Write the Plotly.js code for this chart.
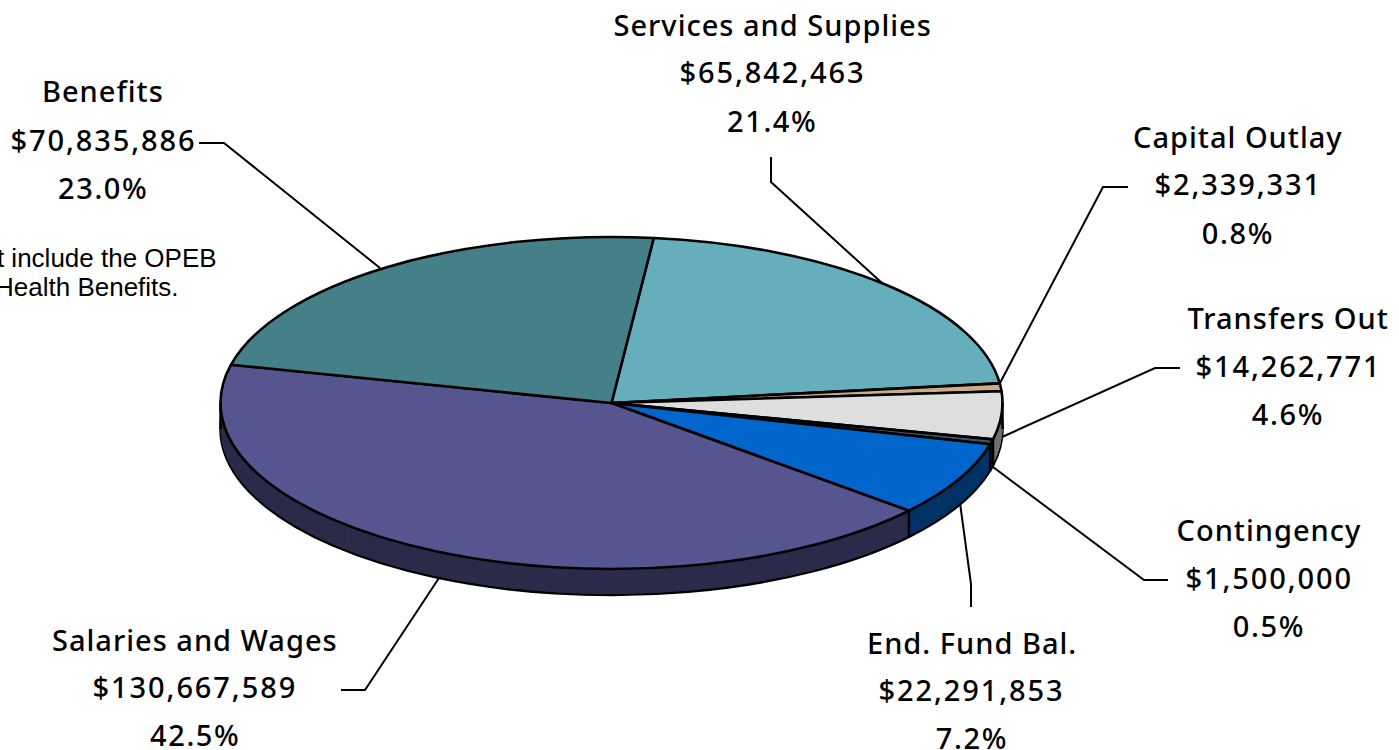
<!DOCTYPE html>
<html>
<head>
<meta charset="utf-8">
<script src="https://cdn.plot.ly/plotly-3.0.1.min.js"></script>
<style>
  html, body { margin: 0; padding: 0; background: #fff; overflow: hidden; }
  #chart { width: 1399px; height: 750px; }
</style>
</head>
<body>
<div id="chart"></div>
<script>
// Budget by category, clockwise from the top of the pie
const categories = ["Services and Supplies", "Capital Outlay", "Transfers Out", "Contingency",
                    "End. Fund Bal.", "Salaries and Wages", "Benefits"];
const amounts = [65842463, 2339331, 14262771, 1500000, 22291853, 130667589, 70835886];
const topColors = ["#67AEBD", "#C8AE82", "#DEDEDE", "#4C4C6C", "#0066CC", "#565590", "#458088"];
const wallColors = ["#34575E", "#645741", "#707070", "#26263A", "#003366", "#2B2B4A", "#234044"];

// Label blocks: centre x and the y of each of the three lines
const labelPlaces = [
  [772, 24, 72, 120], [1238, 136, 184, 232], [1288, 317, 365, 413], [1269, 529, 577, 625],
  [971.5, 642, 689, 737], [195, 639, 686, 734], [103, 91, 140, 188]
];
// Tracking applied to the name, amount and percent lines of each block
const lineTracking = [1.0, 1.9, 1.6];
// Leader lines from each label to the pie rim
const leaders = [
  [[771, 157], [771, 182], [882, 283]],
  [[1128, 187], [1103, 187], [1000, 383]],
  [[1180, 368], [1155, 368], [1002, 437]],
  [[1168, 580], [1144, 580], [993, 467]],
  [[971, 607], [971, 584], [960, 503]],
  [[341, 690], [365, 690], [439, 578]],
  [[199, 143], [224, 143], [380, 268]]
];

// Projected ellipse of the pie's top face, in page pixels
const pie3d = { cx: 611.5, cy: 403, rx: 391, ry: 166, depth: 26, rotation: 6.2 };
const W = 1399, H = 750;
const px = x => x / W;
const py = y => 1 - y / H;
const total = amounts.reduce((a, b) => a + b, 0);

const annotations = [];
categories.forEach((name, i) => {
  const lines = [name, "$" + amounts[i].toLocaleString("en-US"), (amounts[i] / total * 100).toFixed(1) + "%"];
  lines.forEach((text, k) => annotations.push({
    text, xref: "paper", yref: "paper", x: px(labelPlaces[i][0]), y: py(labelPlaces[i][k + 1]),
    xanchor: "center", yanchor: "middle", showarrow: false,
    font: { family: "'Noto Sans', sans-serif", size: 29, weight: 500, color: "#000" }
  }));
});
const labelCount = annotations.length;
[["not include the OPEB", 219, 258], ["Health Benefits.", 181, 287]].forEach(([text, x, y]) =>
  annotations.push({
    text, xref: "paper", yref: "paper", x: px(x), y: py(y), xanchor: "right", yanchor: "middle",
    showarrow: false,
    font: { family: "'Liberation Sans', Arial, sans-serif", size: 26, color: "#000" }
  }));

const shapes = leaders.map(pts => ({
  type: "path", xref: "paper", yref: "paper",
  path: "M" + pts.map(p => px(p[0]) + "," + py(p[1])).join("L"),
  line: { color: "#000", width: 2 }
}));

// Vertical wall edges where a slice boundary or the silhouette falls on the visible front
const edgeAngles = [90, 270];
let running = 0;
amounts.forEach(v => {
  running += v;
  const a = pie3d.rotation + running / total * 360;
  if (Math.cos(a * Math.PI / 180) < 0) edgeAngles.push(a);
});
edgeAngles.forEach(a => {
  const r = a * Math.PI / 180;
  const x = pie3d.cx + pie3d.rx * Math.sin(r);
  const y = pie3d.cy - pie3d.ry * Math.cos(r);
  shapes.push({ type: "line", xref: "paper", yref: "paper",
    x0: px(x), x1: px(x), y0: py(y), y1: py(y + pie3d.depth),
    line: { color: "#000", width: 2.5 } });
});

const sliceBase = { type: "pie", values: amounts, labels: categories, sort: false, direction: "clockwise",
  rotation: pie3d.rotation, textinfo: "none", hoverinfo: "skip", showlegend: false,
  domain: { x: [0, 1], y: [0, 1] } };
const traces = [
  Object.assign({}, sliceBase, { marker: { colors: wallColors, line: { color: "#000", width: 2.6 } } }),
  Object.assign({}, sliceBase, { marker: { colors: topColors, line: { color: "#000", width: 2.6 } } })
];
const layout = { width: W, height: H, margin: { l: 0, r: 0, t: 0, b: 0 }, paper_bgcolor: "#fff",
  showlegend: false, annotations, shapes };

Plotly.newPlot("chart", traces, layout, { staticPlot: true, displayModeBar: false }).then(gd => {
  const groups = gd.querySelectorAll(".pielayer .trace");
  const c = gd.calcdata[0][0];
  const place = (g, drop) => g.setAttribute("transform",
    `translate(${pie3d.cx},${pie3d.cy + drop}) scale(${pie3d.rx / c.r},${pie3d.ry / c.r}) translate(${-c.cx},${-c.cy})`);
  const keepStroke = g => g.querySelectorAll("path").forEach(p => p.setAttribute("vector-effect", "non-scaling-stroke"));
  const [wall, top] = groups;
  keepStroke(wall);
  keepStroke(top);
  place(wall, pie3d.depth);
  place(top, 0);
  // Extrude the side wall by stacking unstroked copies of the lower face
  for (let d = pie3d.depth - 1; d >= 1; d--) {
    const copy = wall.cloneNode(true);
    copy.querySelectorAll("path").forEach(p => { p.style.strokeWidth = "0"; });
    place(copy, d);
    wall.parentNode.insertBefore(copy, top);
  }
  // Track the centred label lines out once they have been positioned
  gd.querySelectorAll(".annotation-text").forEach((t, i) => {
    if (i < labelCount) t.style.letterSpacing = lineTracking[i % 3] + "px";
  });
});
</script>
</body>
</html>
